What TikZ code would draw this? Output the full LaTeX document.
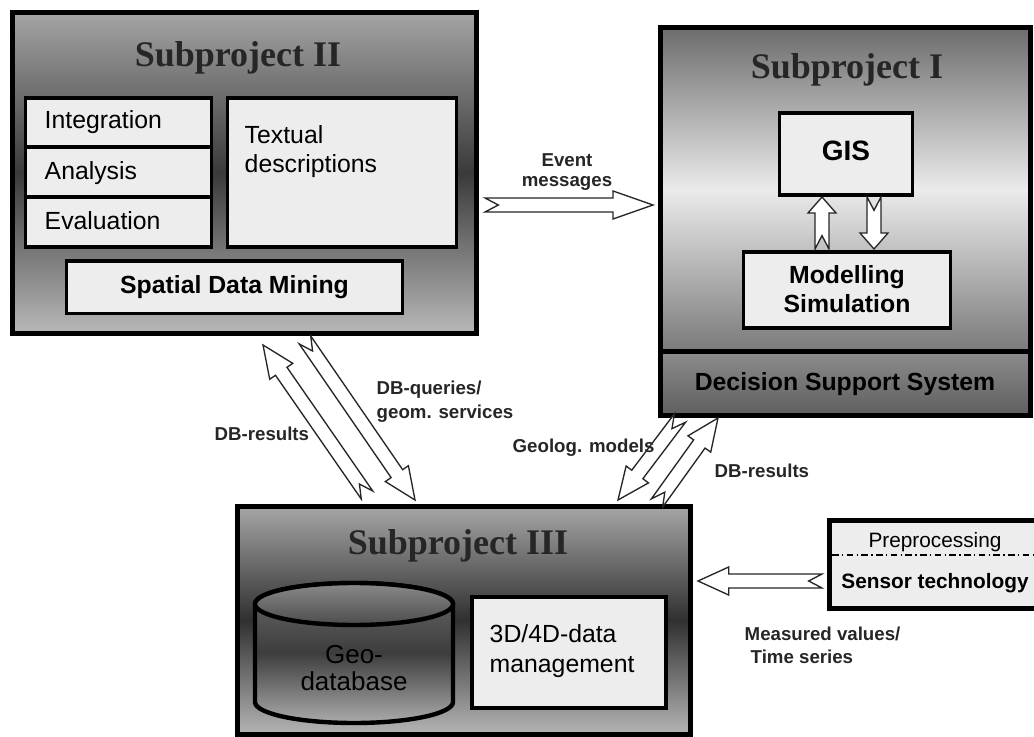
\documentclass[tikz,border=0pt]{standalone}
\usepackage{fontspec}
\setmainfont{Liberation Sans}
\newfontfamily\titlefont{Liberation Serif}
\usetikzlibrary{calc, positioning}

\definecolor{panel}{HTML}{EDEDED}
\definecolor{titlegray}{HTML}{262626}
\definecolor{twotop}{HTML}{A4A4A4}
\definecolor{twomid}{HTML}{3A3A3A}
\definecolor{twobot}{HTML}{B8B8B8}
\definecolor{onetop}{HTML}{6C6C6C}
\definecolor{onemid}{HTML}{EBEBEB}
\definecolor{onebot}{HTML}{7A7A7A}
\definecolor{threetop}{HTML}{A6A6A6}
\definecolor{threemid}{HTML}{303030}
\definecolor{threebot}{HTML}{B4B4B4}

\tikzset{
  wh/.style 2 args={minimum width=#1*0.75pt, minimum height=#2*0.75pt},
  subbox/.style={draw, line width=3.75pt, inner sep=0pt},
  partbox/.style={draw, fill=panel, line width=2.6pt, inner sep=0pt},
  title/.style={font=\titlefont\bfseries\fontsize{27}{30}\selectfont, text=titlegray, anchor=base},
  body/.style={font=\fontsize{18.6}{22}\selectfont, anchor=base west},
  bodybold/.style={font=\bfseries\fontsize{18.6}{22}\selectfont, anchor=base},
  lbl/.style={font=\bfseries\fontsize{14}{16}\selectfont, text=black!85, anchor=base west},
  blockarrow/.style={draw=black!85, fill=white, line width=1pt, line join=miter},
}

% notched block arrow: [head length] tail, tip
\newcommand{\blockarr}[3][24pt]{%
  \coordinate (hb) at ($(#3)!#1!(#2)$);
  \draw[blockarrow] ($(#2)!5.25pt!90:(#3)$) -- ($(hb)!5.25pt!90:(#3)$)
    -- ($(hb)!10.5pt!90:(#3)$) -- (#3) -- ($(hb)!10.5pt!-90:(#3)$)
    -- ($(hb)!5.25pt!-90:(#3)$) -- ($(#2)!5.25pt!-90:(#3)$)
    -- ($(#2)!10pt!(#3)$) -- cycle;
}

\begin{document}
\begin{tikzpicture}[x=0.75pt, y=-0.75pt]
  \useasboundingbox (0,0) rectangle (1034,737);

  % Subproject II
  \node[subbox, wh={464}{321}, top color=twotop, bottom color=twobot, middle color=twomid] (sp2) at (244.5,173) {};
  \node[title] (sp2-t) at (238,67) {Subproject II};
  \node[partbox, wh={186}{49}] (integ) at (118.5,122.5) {};
  \node[partbox, wh={186}{50}] (analys) at (118.5,172) {};
  \node[partbox, wh={186}{50}] (evalu) at (118.5,222) {};
  \node[partbox, wh={229}{149}] (textual) at (342.2,172.5) {};
  \node[partbox, wh={335.6}{52.3}] (sdm) at (234.5,287.2) {};
  \node[body] (integ-t) at (40,129) {Integration};
  \node[body] (analys-t) at (40,179.5) {Analysis};
  \node[body] (evalu-t) at (40,229.5) {Evaluation};
  \node[body] (textual-t1) at (240,144) {Textual};
  \node[body] (textual-t2) at (240,173) {descriptions};
  \node[bodybold] (sdm-t) at (234.5,293.3) {Spatial Data Mining};

  % Subproject I
  \node[subbox, wh={370}{324}, top color=onetop, bottom color=onebot, middle color=onemid] (sp1) at (845,189.5) {};
  \node[subbox, wh={370}{63.5}, top color=black!45, bottom color=black!63] (dss) at (845,383.25) {};
  \node[title] (sp1-t) at (847,79) {Subproject I};
  \node[partbox, wh={133}{82}] (gis) at (846,154) {};
  \node[partbox, wh={207}{76}] (model) at (847,290) {};
  \node[bodybold, font=\bfseries\fontsize{21}{24}\selectfont] (gis-t) at (846,161) {GIS};
  \node[bodybold] (model-t1) at (847,284) {Modelling};
  \node[bodybold] (model-t2) at (847,313) {Simulation};
  \node[bodybold] (dss-t) at (845,391) {Decision Support System};

  % Subproject III
  \node[subbox, wh={453}{228}, top color=threetop, bottom color=threebot, middle color=threemid] (sp3) at (463.5,620) {};
  \node[title] (sp3-t) at (458,554) {Subproject III};
  \draw[line width=3.3pt, top color=black!58, bottom color=black!33, middle color=black!76]
    (255,604) -- (255,702) arc[start angle=180, end angle=360, x radius=74.25pt, y radius=15.75pt]
    -- (453,604) arc[start angle=0, end angle=180, x radius=74.25pt, y radius=15.75pt] -- cycle;
  \draw[line width=3.3pt, top color=black!46, bottom color=black!70]
    (354,604) ellipse [x radius=74.25pt, y radius=15.75pt];
  \node[bodybold, font=\fontsize{19.5}{22}\selectfont, text=black] (geo-t1) at (354,663) {Geo-};
  \node[bodybold, font=\fontsize{19.5}{22}\selectfont, text=black] (geo-t2) at (354,690) {database};
  \node[partbox, wh={194}{111}] (dm) at (569,652.5) {};
  \node[body] (dm-t1) at (485,642) {3D/4D-data};
  \node[body] (dm-t2) at (485,672) {management};

  % Sensor technology
  \node[subbox, fill=panel, wh={222}{88}] (sensor) at (940,564) {};
  \draw[line width=0.8pt, dash pattern=on 5pt off 2.5pt on 1pt off 2.5pt] (832,555) -- (1034,555);
  \node[bodybold, font=\fontsize{15.6}{18}\selectfont] (pre-t) at (935,547) {Preprocessing};
  \node[bodybold, font=\bfseries\fontsize{15.6}{18}\selectfont] (sensor-t) at (935,588) {Sensor technology};

  % arrows
  \coordinate (ev-s) at (485,205);
  \coordinate (ev-e) at (653,205);
  \coordinate (ms-s) at (822,581);
  \coordinate (ms-e) at (698,581);
  \coordinate (gu-s) at (822,249);
  \coordinate (gu-e) at (822,197);
  \coordinate (gd-s) at (874,197);
  \coordinate (gd-e) at (874,249);
  \coordinate (q-s) at (305,340);
  \coordinate (q-e) at (415,500);
  \coordinate (r-s) at (367,495);
  \coordinate (r-e) at (263,345);
  \coordinate (g-s) at (680,418);
  \coordinate (g-e) at (618,500);
  \coordinate (d-s) at (657,503);
  \coordinate (d-e) at (718,418);

  \blockarr[30pt]{ev-s}{ev-e}
  \blockarr[23pt]{ms-s}{ms-e}
  \blockarr[12pt]{gu-s}{gu-e}
  \blockarr[12pt]{gd-s}{gd-e}
  \blockarr{q-s}{q-e}
  \blockarr{r-s}{r-e}
  \blockarr{g-s}{g-e}
  \blockarr{d-s}{d-e}

  % labels
  \node[lbl, anchor=base] (ev-l1) at (567,167) {Event};
  \node[lbl, anchor=base] (ev-l2) at (567,187) {messages};
  \node[lbl] (q-l1) at (372,395) {DB-queries/};
  \node[lbl] (q-l2) at (372,418) {geom. services};
  \node[lbl] (r-l) at (210,440) {DB-results};
  \node[lbl] (g-l) at (508,452) {Geolog. models};
  \node[lbl] (d-l) at (710,477) {DB-results};
  \node[lbl] (ms-l1) at (740,640) {Measured values/};
  \node[lbl] (ms-l2) at (746,663) {Time series};
\end{tikzpicture}
\end{document}
